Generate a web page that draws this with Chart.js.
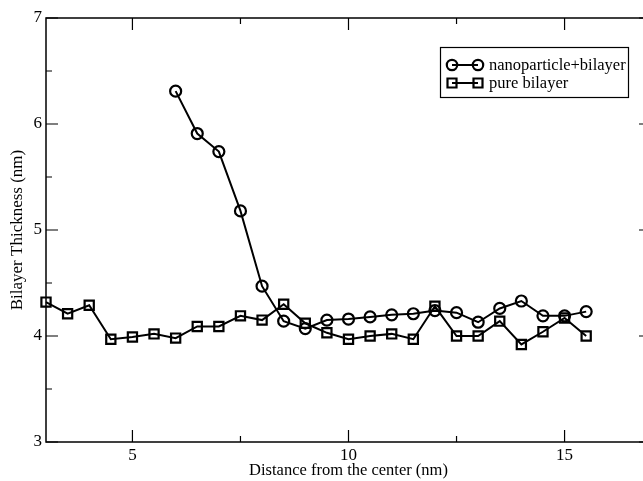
<!DOCTYPE html>
<html><head><meta charset="utf-8">
<script src="https://cdn.jsdelivr.net/npm/chart.js@4/dist/chart.umd.min.js"></script>
<style>
html,body{margin:0;padding:0;overflow:hidden;background:#fff;width:643px;height:481px}
#wrap{width:660px;height:481px}
</style>
</head><body>
<div id="wrap"><canvas id="c" width="660" height="481"></canvas></div>
<script>
// ---- data ----
const seriesNames = ["nanoparticle+bilayer", "pure bilayer"];
const npDistance = [6, 6.5, 7, 7.5, 8, 8.5, 9, 9.5, 10, 10.5, 11, 11.5, 12, 12.5, 13, 13.5, 14, 14.5, 15, 15.5];
const npThickness = [6.31, 5.91, 5.74, 5.18, 4.47, 4.14, 4.07, 4.15, 4.16, 4.18, 4.20, 4.21, 4.24, 4.22, 4.13, 4.26, 4.33, 4.19, 4.19, 4.23];
const pureDistance = [3, 3.5, 4, 4.5, 5, 5.5, 6, 6.5, 7, 7.5, 8, 8.5, 9, 9.5, 10, 10.5, 11, 11.5, 12, 12.5, 13, 13.5, 14, 14.5, 15, 15.5];
const pureThickness = [4.32, 4.21, 4.29, 3.97, 3.99, 4.02, 3.98, 4.09, 4.09, 4.19, 4.15, 4.30, 4.12, 4.03, 3.97, 4.00, 4.02, 3.97, 4.28, 4.00, 4.00, 4.14, 3.92, 4.04, 4.17, 4.00];
const xMajorTicks = [5, 10, 15];
const xMinorTicks = [7.5, 12.5];
const yMajorTicks = [3, 4, 5, 6, 7];
const yMinorTicks = [3.5, 4.5, 5.5, 6.5];
const xTitle = "Distance from the center (nm)";
const yTitle = "Bilayer Thickness (nm)";

const FONT = "'Liberation Serif', 'DejaVu Serif', serif";
const toPts = (xs, ys) => xs.map((x, i) => ({x: x, y: ys[i]}));

const framePlugin = {
  id: 'frame',
  afterDraw(chart) {
    const ctx = chart.ctx, a = chart.chartArea;
    const xs = chart.scales.x, ys = chart.scales.y;
    ctx.save();
    ctx.strokeStyle = '#000';
    ctx.lineWidth = 1.5;
    ctx.strokeRect(a.left, a.top, a.right - a.left, a.bottom - a.top);
    ctx.lineWidth = 1.2;
    ctx.beginPath();
    const tick = (vals, len) => {
      vals.forEach(v => {
        const px = xs.getPixelForValue(v);
        ctx.moveTo(px, a.bottom); ctx.lineTo(px, a.bottom - len);
        ctx.moveTo(px, a.top); ctx.lineTo(px, a.top + len);
      });
    };
    const ytick = (vals, len) => {
      vals.forEach(v => {
        const py = ys.getPixelForValue(v);
        ctx.moveTo(a.left, py); ctx.lineTo(a.left + len, py);
        ctx.moveTo(a.right, py); ctx.lineTo(a.right - len, py);
      });
    };
    tick(xMajorTicks, 12); tick(xMinorTicks, 6);
    ytick(yMajorTicks, 12); ytick(yMinorTicks, 6);
    ctx.stroke();

    // legend
    const bx = 440, by = 47, bw = 188, bh = 50;
    ctx.fillStyle = '#fff';
    ctx.fillRect(bx, by, bw, bh);
    ctx.lineWidth = 1.2;
    ctx.strokeRect(bx + 0.5, by + 0.5, bw, bh);
    const rows = [65, 83];
    chart.data.datasets.forEach((ds, i) => {
      const y = rows[i];
      const x1 = 452, x2 = 478;
      ctx.lineWidth = 2;
      ctx.strokeStyle = '#000';
      ctx.beginPath();
      ctx.moveTo(x1, y); ctx.lineTo(x2, y); ctx.stroke();
      ctx.lineWidth = 2.2;
      [x1, x2].forEach(x => {
        ctx.beginPath();
        if (ds.pointStyle === 'rect') {
          ctx.rect(x - 4.5, y - 4.5, 9, 9);
        } else {
          ctx.arc(x, y, 5.2, 0, Math.PI * 2);
        }
        ctx.stroke();
      });
      ctx.fillStyle = '#000';
      ctx.font = "16.5px " + FONT;
      ctx.textBaseline = 'middle';
      ctx.textAlign = 'left';
      ctx.fillText(ds.label, 489, y + 1);
    });
    ctx.restore();
  }
};

new Chart(document.getElementById('c'), {
  type: 'scatter',
  data: {
    datasets: [
      {
        label: seriesNames[0],
        data: toPts(npDistance, npThickness),
        showLine: true,
        clip: false,
        borderColor: '#000',
        borderWidth: 2,
        pointStyle: 'circle',
        pointRadius: 5.5,
        pointBorderWidth: 2.2,
        pointBorderColor: '#000',
        pointBackgroundColor: 'rgba(0,0,0,0)'
      },
      {
        label: seriesNames[1],
        data: toPts(pureDistance, pureThickness),
        showLine: true,
        clip: false,
        borderColor: '#000',
        borderWidth: 2,
        pointStyle: 'rect',
        pointRadius: 6.5,
        pointBorderWidth: 2.2,
        pointBorderColor: '#000',
        pointBackgroundColor: 'rgba(0,0,0,0)'
      }
    ]
  },
  options: {
    responsive: false,
    animation: false,
    devicePixelRatio: 1,
    layout: { padding: { top: 18, left: 0, right: 9, bottom: 0 } },
    plugins: { legend: { display: false }, tooltip: { enabled: false } },
    scales: {
      x: {
        type: 'linear', min: 3, max: 17,
        grid: { display: false, drawTicks: false },
        border: { display: false },
        afterBuildTicks: s => { s.ticks = xMajorTicks.map(v => ({value: v})); },
        afterFit: s => { s.height = 39; },
        ticks: { color: '#000', font: { family: FONT, size: 17 }, padding: 3, maxRotation: 0 },
        title: { display: true, text: xTitle, color: '#000', font: { family: FONT, size: 16.5 }, padding: { top: 0, bottom: 0 } }
      },
      y: {
        type: 'linear', min: 3, max: 7,
        grid: { display: false, drawTicks: false },
        border: { display: false },
        afterBuildTicks: s => { s.ticks = yMajorTicks.map(v => ({value: v})); },
        afterFit: s => { s.width = 46; },
        ticks: { color: '#000', font: { family: FONT, size: 17 }, padding: 4 },
        title: { display: true, text: yTitle, color: '#000', font: { family: FONT, size: 17 }, padding: { top: 7, bottom: 0 } }
      }
    }
  },
  plugins: [framePlugin]
});
</script>
</body></html>
